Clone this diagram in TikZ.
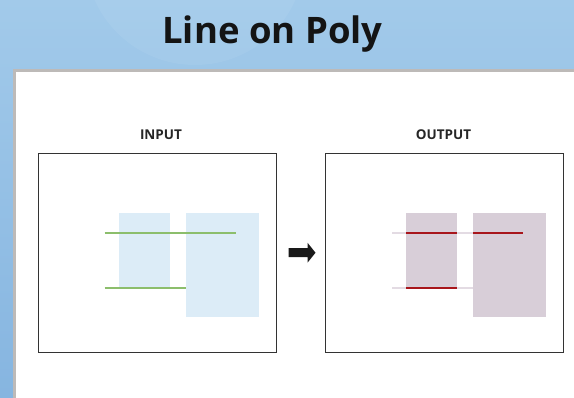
\documentclass[tikz,border=0pt]{standalone}
\usepackage{fontspec}
\setmainfont{Open Sans}
\usetikzlibrary{positioning}
\definecolor{skytop}{HTML}{A2CAEA}
\definecolor{skybot}{HTML}{86B5E0}
\definecolor{panelgray}{HTML}{BDBAB8}
\definecolor{polyblue}{HTML}{DCECF7}
\definecolor{linegreen}{HTML}{8CBE6C}
\definecolor{polymauve}{HTML}{D8CED8}
\definecolor{linered}{HTML}{A8161C}
\definecolor{linefaint}{HTML}{E3DBE3}
\begin{document}
\begin{tikzpicture}[x=1pt, y=-1pt,
	frame/.style={draw=black!80, line width=1pt, minimum width=238pt, minimum height=198.7pt, inner sep=0pt},
	caption/.style={anchor=base, font=\fontsize{13.5}{16}\selectfont\bfseries, text=black!85}]
	\useasboundingbox (0,0) rectangle (574,397);
	% background and panel
	\shade[top color=skytop, bottom color=skybot] (0,0) rectangle (574,397);
	\fill[white, opacity=0.06] (195,-45) circle (110);
	\fill[white, draw=panelgray, line width=3pt] (14.5,70.5) rectangle (580,402);
	\node[anchor=base, font=\fontsize{36.5}{42}\selectfont\bfseries, text=black!92] (title) at (272.5,43) {Line on Poly};
	% input
	\node[frame] (inbox) at (157,252.7) {};
	\node[caption] (inlabel) at (161,139.3) {INPUT};
	\fill[polyblue] (119,213) rectangle (170,287);
	\fill[polyblue] (186,213) rectangle (259,317);
	\draw[linegreen, line width=2pt] (104.7,232.7) -- (235.7,232.7);
	\draw[linegreen, line width=2pt] (104.7,287.7) -- (186,287.7);
	% output
	\node[frame] (outbox) at (444.3,252.7) {};
	\node[caption] (outlabel) at (443.5,139.3) {OUTPUT};
	\fill[polymauve] (406.3,213) rectangle (457.3,287);
	\fill[polymauve] (473.3,213) rectangle (546.3,317);
	\draw[linefaint, line width=2pt] (392,232.7) -- (523,232.7);
	\draw[linefaint, line width=2pt] (392,287.7) -- (473.3,287.7);
	\draw[linered, line width=2pt] (406.3,232.7) -- (457.3,232.7);
	\draw[linered, line width=2pt] (473.3,232.7) -- (523,232.7);
	\draw[linered, line width=2pt] (406.3,287.7) -- (457.3,287.7);
	% arrow
	\coordinate (arrowstart) at ([xshift=12pt]inbox.east);
	\fill[black!90] (arrowstart) ++(0,-4.5) -- ++(19,0) -- ++(0,-5.5) -- ++(8,10) -- ++(-8,10) -- ++(0,-5.5) -- ++(-19,0) -- cycle;
\end{tikzpicture}
\end{document}
